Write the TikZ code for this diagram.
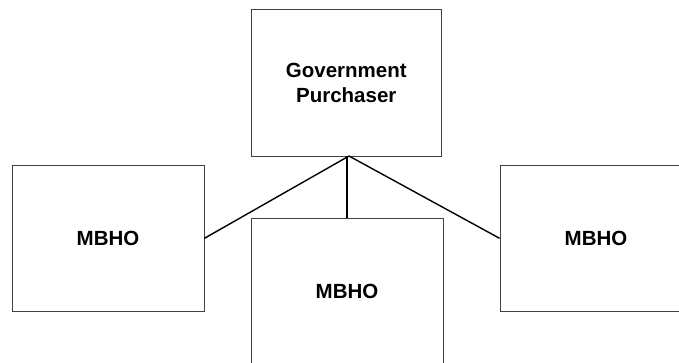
\documentclass[tikz,border=0pt]{standalone}
\usepackage{fontspec}
\setmainfont{Liberation Sans}
\begin{document}
\begin{tikzpicture}[x=1pt,y=-1pt,
  box/.style={draw=black!75,line width=0.9pt,minimum width=192pt,minimum height=146.5pt,inner sep=0pt,align=center,font=\fontsize{20.5}{25}\selectfont\bfseries},
  link/.style={draw=black,line width=1.4pt}]
\useasboundingbox (0,0) rectangle (679,362);
\clip (0,0) rectangle (679,362);
\fill[white] (0,0) rectangle (679,362);
\node[box,minimum width=190.5pt] (gp) at (346.25,82.75) {Government\\Purchaser};
\node[box] (m1) at (108,238.3) {MBHO};
\node[box] (m2) at (347,291.3) {MBHO};
\node[box] (m3) at (596,238.3) {MBHO};
\coordinate (apex) at (349,156);
\draw[link] (apex) -- (m1.east);
\draw[link] (apex) -- (m3.west);
\draw[link] (apex -| m2.north) -- (m2.north);
\end{tikzpicture}
\end{document}
